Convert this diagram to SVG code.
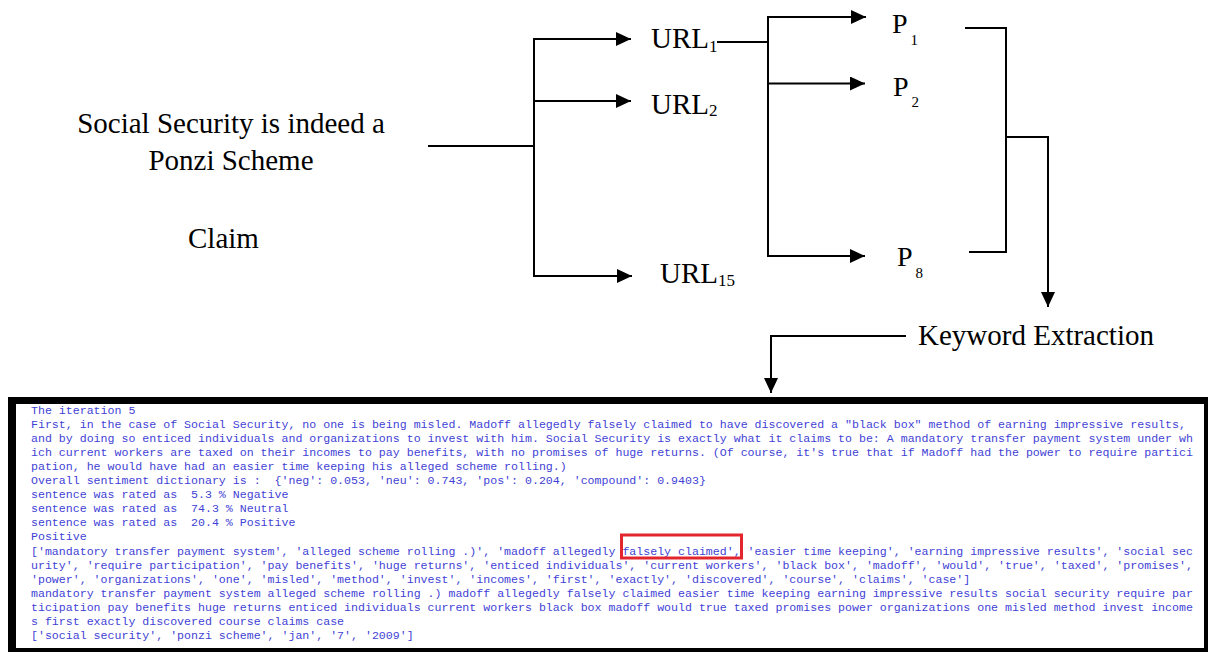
<svg xmlns="http://www.w3.org/2000/svg" width="1208" height="652" viewBox="0 0 1208 652">
  <style>
    .lbl { font-family: "Liberation Serif", "Times New Roman", serif; font-size: 29px; fill: #000; }
    .sub { font-size: 17px; }
    .psub { font-size: 15px; }
    .wire { fill: none; stroke: #000; stroke-width: 2; }
    .term { font-family: "Liberation Mono", "Courier New", monospace; font-size: 11.6px; fill: #3f3fd6; white-space: pre; }
  </style>
  <defs>
    <marker id="arrow" viewBox="0 0 15 14" markerWidth="15" markerHeight="14" refX="15" refY="7" orient="auto" markerUnits="userSpaceOnUse">
      <path d="M0,0 L15,7 L0,14 Z" fill="#000"/>
    </marker>
  </defs>

  <rect width="1208" height="652" fill="#fff"/>

  <!-- connectors -->
  <g id="connectors" class="wire">
    <path d="M428,146 H534"/>
    <path d="M534,38 V277"/>
    <path d="M534,39 H631" marker-end="url(#arrow)"/>
    <path d="M534,101 H631" marker-end="url(#arrow)"/>
    <path d="M534,276 H632" marker-end="url(#arrow)"/>
    <path d="M717,42 H768"/>
    <path d="M768,16 V257"/>
    <path d="M768,17 H866" marker-end="url(#arrow)"/>
    <path d="M768,83.5 H865" marker-end="url(#arrow)"/>
    <path d="M768,256 H865" marker-end="url(#arrow)"/>
    <path d="M965,28 H1006 V252 H969"/>
    <path d="M1007,137 H1048 V307" marker-end="url(#arrow)"/>
    <path d="M906,336 H771 V393" marker-end="url(#arrow)"/>
  </g>

  <!-- claim -->
  <g id="claim">
    <text class="lbl" x="231" y="133" text-anchor="middle">Social Security is indeed a</text>
    <text class="lbl" x="231" y="170" text-anchor="middle">Ponzi Scheme</text>
    <text class="lbl" x="188" y="248">Claim</text>
  </g>

  <!-- retrieved URLs -->
  <g id="url1"><text class="lbl" x="651" y="48">URL<tspan class="sub" dy="4">1</tspan></text></g>
  <g id="url2"><text class="lbl" x="651" y="114">URL<tspan class="sub" dy="2">2</tspan></text></g>
  <g id="url15"><text class="lbl" x="660" y="283">URL<tspan class="sub" dy="3">15</tspan></text></g>

  <!-- passages -->
  <g id="p1"><text class="lbl" x="892" y="33" style="font-size:28px">P<tspan class="psub" dx="3" dy="12">1</tspan></text></g>
  <g id="p2"><text class="lbl" x="893" y="96" style="font-size:28px">P<tspan class="psub" dx="3" dy="11">2</tspan></text></g>
  <g id="p8"><text class="lbl" x="897" y="266" style="font-size:28px">P<tspan class="psub" dx="3" dy="12">8</tspan></text></g>

  <!-- keyword extraction -->
  <g id="keyword"><text class="lbl" x="918" y="345">Keyword Extraction</text></g>

  <!-- console output -->
  <g id="console">
    <rect x="8" y="397" width="1200" height="255" fill="#000"/>
    <rect x="16" y="404" width="1188" height="244" fill="#fff"/>
    <text class="term" x="31" y="413.5">The iteration 5</text>
    <text class="term" x="31" y="427.6">First, in the case of Social Security, no one is being misled. Madoff allegedly falsely claimed to have discovered a "black box" method of earning impressive results,</text>
    <text class="term" x="31" y="441.7">and by doing so enticed individuals and organizations to invest with him. Social Security is exactly what it claims to be: A mandatory transfer payment system under wh</text>
    <text class="term" x="31" y="455.8">ich current workers are taxed on their incomes to pay benefits, with no promises of huge returns. (Of course, it's true that if Madoff had the power to require partici</text>
    <text class="term" x="31" y="469.9">pation, he would have had an easier time keeping his alleged scheme rolling.)</text>
    <text class="term" x="31" y="484">Overall sentiment dictionary is :  {'neg': 0.053, 'neu': 0.743, 'pos': 0.204, 'compound': 0.9403}</text>
    <text class="term" x="31" y="498.1">sentence was rated as  5.3 % Negative</text>
    <text class="term" x="31" y="512.2">sentence was rated as  74.3 % Neutral</text>
    <text class="term" x="31" y="526.3">sentence was rated as  20.4 % Positive</text>
    <text class="term" x="31" y="540.4">Positive</text>
    <text class="term" x="31" y="554.5">['mandatory transfer payment system', 'alleged scheme rolling .)', 'madoff allegedly falsely claimed', 'easier time keeping', 'earning impressive results', 'social sec</text>
    <text class="term" x="31" y="568.6">urity', 'require participation', 'pay benefits', 'huge returns', 'enticed individuals', 'current workers', 'black box', 'madoff', 'would', 'true', 'taxed', 'promises',</text>
    <text class="term" x="31" y="582.7">'power', 'organizations', 'one', 'misled', 'method', 'invest', 'incomes', 'first', 'exactly', 'discovered', 'course', 'claims', 'case']</text>
    <text class="term" x="31" y="596.8">mandatory transfer payment system alleged scheme rolling .) madoff allegedly falsely claimed easier time keeping earning impressive results social security require par</text>
    <text class="term" x="31" y="610.9">ticipation pay benefits huge returns enticed individuals current workers black box madoff would true taxed promises power organizations one misled method invest income</text>
    <text class="term" x="31" y="625">s first exactly discovered course claims case</text>
    <text class="term" x="31" y="639.1">['social security', 'ponzi scheme', 'jan', '7', '2009']</text>
    <rect x="621.5" y="535" width="120" height="23" fill="none" stroke="#e3262e" stroke-width="3"/>
  </g>
</svg>
